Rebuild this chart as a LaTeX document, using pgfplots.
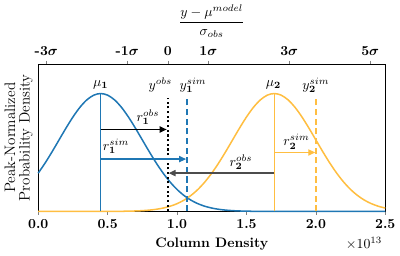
\documentclass[border=0pt]{standalone}
\usepackage{pgfplots}
\pgfplotsset{compat=1.18}
\usepackage{amsmath}
\usetikzlibrary{arrows.meta}
\definecolor{cblue}{RGB}{31,119,180}
\definecolor{corange}{RGB}{255,190,65}
\tikzset{tri/.style={-{Triangle[length=5pt,width=4.5pt]}}}
\begin{document}
\begin{tikzpicture}
\begin{axis}[
  scale only axis, width=252pt, height=107pt,
  xmin=0, xmax=2.5, ymin=0, ymax=1.25,
  xtick={0,0.5,1,1.5,2,2.5},
  xticklabels={\textbf{0.0},\textbf{0.5},\textbf{1.0},\textbf{1.5},\textbf{2.0},\textbf{2.5}},
  ytick=\empty,
  xtick pos=left, tick align=outside,
  major tick length=2.5pt,
  xlabel={\textbf{Column Density}},
  ylabel={Peak-Normalized\\Probability Density},
  ylabel style={align=center, font=\fontsize{11}{10.5}\selectfont, yshift=-2pt},
  clip=false,
]
\addplot[cblue, line width=1.1pt, smooth] coordinates {
(0,0.3247) (0.05,0.4111) (0.1,0.5063) (0.15,0.6065) (0.2,0.7066) (0.25,0.8007) (0.3,0.8825) (0.35,0.946) (0.4,0.9862) (0.45,1) (0.5,0.9862) (0.55,0.946) (0.6,0.8825) (0.65,0.8007) (0.7,0.7066) (0.75,0.6065) (0.8,0.5063) (0.85,0.4111) (0.9,0.3247) (0.95,0.2494) (1.0,0.1863) (1.05,0.1353) (1.1,0.0956) (1.15,0.0657) (1.2,0.0439) (1.25,0.0286) (1.3,0.0181) (1.35,0.0111) (1.4,0.0066) (1.45,0.0039) (1.5,0.0022) (1.55,0.0012) (1.65,0.0003) (1.75,0.0001) (2.0,0) (2.5,0)
};
\addplot[corange, line width=1.1pt, smooth] coordinates {
(0,0) (0.4,0.0001) (0.5,0.0003) (0.6,0.0012) (0.65,0.0022) (0.7,0.0039) (0.75,0.0066) (0.8,0.0111) (0.85,0.0181) (0.9,0.0286) (0.95,0.0439) (1.0,0.0657) (1.05,0.0956) (1.1,0.1353) (1.15,0.1863) (1.2,0.2494) (1.25,0.3247) (1.3,0.4111) (1.35,0.5063) (1.4,0.6065) (1.45,0.7066) (1.5,0.8007) (1.55,0.8825) (1.6,0.946) (1.65,0.9862) (1.7,1) (1.75,0.9862) (1.8,0.946) (1.85,0.8825) (1.9,0.8007) (1.95,0.7066) (2.0,0.6065) (2.05,0.5063) (2.1,0.4111) (2.15,0.3247) (2.2,0.2494) (2.25,0.1863) (2.3,0.1353) (2.35,0.0956) (2.4,0.0657) (2.45,0.0439) (2.5,0.0286)
};
\addplot[cblue, line width=1pt] coordinates {(0.45,0) (0.45,1)};
\addplot[corange, line width=1pt] coordinates {(1.7,0) (1.7,1)};
\addplot[black, line width=1.5pt, dash pattern=on 1.5pt off 1.9pt] coordinates {(0.933,0) (0.933,0.965)};
\addplot[cblue, line width=1.5pt, dash pattern=on 4.4pt off 2.6pt] coordinates {(1.07,0) (1.07,0.965)};
\addplot[corange, line width=1.5pt, dash pattern=on 4.4pt off 2.6pt] coordinates {(2.0,0) (2.0,0.965)};
\addplot[black, line width=0.9pt, tri] coordinates {(0.45,0.695) (0.925,0.695)};
\addplot[cblue, line width=0.9pt, tri] coordinates {(0.45,0.444) (1.065,0.444)};
\addplot[black!70, line width=0.9pt, tri] coordinates {(1.7,0.325) (0.94,0.325)};
\addplot[corange, line width=0.9pt, tri] coordinates {(1.7,0.50) (1.995,0.50)};
\addplot[only marks, mark=*, mark size=0pt, mark options={draw=none,fill=none},
  nodes near coords, point meta=explicit symbolic,
  nodes near coords style={anchor=center, text=black}] coordinates {
(0.45,1.07) [$\mu_{\mathbf{1}}$]
(0.88,1.07) [$y^{obs}$]
(1.115,1.07) [$y_{\mathbf{1}}^{sim}$]
(1.695,1.07) [$\mu_{\mathbf{2}}$]
(2.0,1.07) [$y_{\mathbf{2}}^{sim}$]
(0.79,0.80) [$r_{\mathbf{1}}^{obs}$]
(0.56,0.55) [$r_{\mathbf{1}}^{sim}$]
(1.46,0.42) [$r_{\mathbf{2}}^{obs}$]
(1.86,0.59) [$r_{\mathbf{2}}^{sim}$]
};
\addplot[only marks, mark=*, mark size=0pt, mark options={draw=none,fill=none},
  nodes near coords, point meta=explicit symbolic,
  nodes near coords style={anchor=center, text=black}] coordinates {
(2.347,-0.275) [$\times10^{13}$]
};
\end{axis}
\begin{axis}[
  scale only axis, width=252pt, height=107pt,
  xmin=0, xmax=2.5, ymin=0, ymax=1.25,
  axis x line*=top, axis y line=none,
  tick align=outside, major tick length=2.5pt,
  xtick={0.0583,0.6417,0.9333,1.225,1.8083,2.3917},
  xticklabels={\textbf{-3}$\boldsymbol{\sigma}$,\textbf{-1}$\boldsymbol{\sigma}$,\textbf{0},\textbf{1}$\boldsymbol{\sigma}$,\textbf{3}$\boldsymbol{\sigma}$,\textbf{5}$\boldsymbol{\sigma}$},
  xlabel={$\dfrac{y-\mu^{model}}{\sigma_{obs}}$},
]
\end{axis}
\end{tikzpicture}
\end{document}
